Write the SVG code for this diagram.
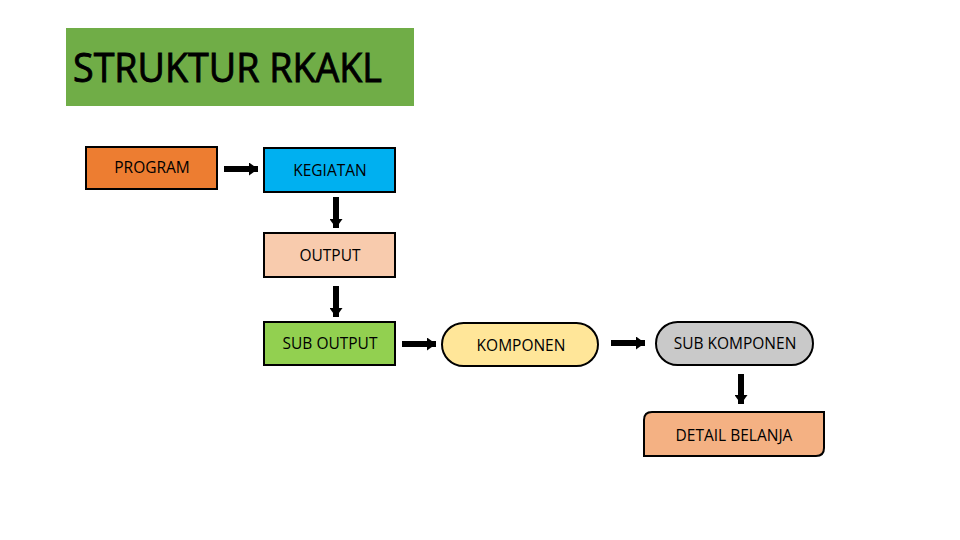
<svg xmlns="http://www.w3.org/2000/svg" width="960" height="540" viewBox="0 0 960 540">
<style>
.box{stroke:#000;stroke-width:2}
.lbl{font-family:"Open Sans","Liberation Sans",sans-serif;font-size:15.5px;fill:#000;text-anchor:middle}
.conn{stroke:#000;stroke-width:6;fill:none}
</style>
<defs>
<marker id="ah" markerUnits="userSpaceOnUse" markerWidth="9" markerHeight="13" refX="9" refY="6.5" orient="auto">
<path d="M0,0 L9,6.5 L0,13 Z" fill="#000"/>
</marker>
</defs>
<rect width="960" height="540" fill="#fff"/>
<g id="title">
<rect x="66" y="28" width="348" height="78" fill="#70AD47"/>
<text x="73" y="82" font-family="Open Sans, Liberation Sans, sans-serif" font-size="40" stroke="#000" stroke-width="0.9" textLength="309" lengthAdjust="spacingAndGlyphs" fill="#000">STRUKTUR RKAKL</text>
</g>
<g id="program">
<rect class="box" x="86" y="147" width="131" height="42" fill="#ED7D31"/>
<text class="lbl" x="152" y="173">PROGRAM</text>
</g>
<g id="kegiatan">
<rect class="box" x="264" y="148" width="131" height="44" fill="#00B0F0"/>
<text class="lbl" x="330" y="176">KEGIATAN</text>
</g>
<g id="output">
<rect class="box" x="264" y="233" width="131" height="44" fill="#F8CBAD"/>
<text class="lbl" x="330" y="261">OUTPUT</text>
</g>
<g id="suboutput">
<rect class="box" x="264" y="322" width="131" height="43" fill="#92D050"/>
<text class="lbl" x="330" y="349">SUB OUTPUT</text>
</g>
<g id="komponen">
<rect class="box" x="442" y="323" width="156" height="43" rx="21.5" fill="#FFE699"/>
<text class="lbl" x="521" y="351">KOMPONEN</text>
</g>
<g id="subkomponen">
<rect class="box" x="656" y="322" width="157" height="43" rx="21.5" fill="#C9C9C9"/>
<text class="lbl" x="735" y="349">SUB KOMPONEN</text>
</g>
<g id="detailbelanja">
<path class="box" d="M652,412 H824 V448 Q824,456 816,456 H644 V420 Q644,412 652,412 Z" fill="#F4B183"/>
<text class="lbl" x="734" y="441">DETAIL BELANJA</text>
</g>
<g id="connectors">
<line class="conn" x1="224" y1="169" x2="258" y2="169" marker-end="url(#ah)"/>
<line class="conn" x1="336" y1="197" x2="336" y2="228" marker-end="url(#ah)"/>
<line class="conn" x1="336" y1="286" x2="336" y2="317" marker-end="url(#ah)"/>
<line class="conn" x1="402" y1="344" x2="436" y2="344" marker-end="url(#ah)"/>
<line class="conn" x1="611" y1="343" x2="645" y2="343" marker-end="url(#ah)"/>
<line class="conn" x1="741" y1="374" x2="741" y2="404" marker-end="url(#ah)"/>
</g>
</svg>
